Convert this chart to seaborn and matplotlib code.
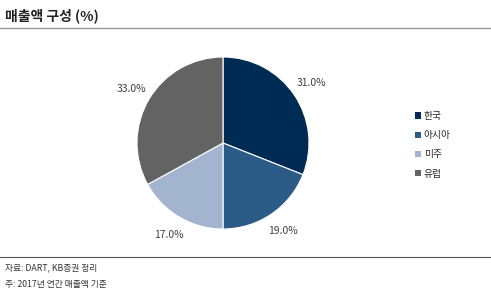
import matplotlib
matplotlib.use("Agg")
import matplotlib.pyplot as plt
import seaborn as sns
from matplotlib.lines import Line2D
from matplotlib.patches import Patch

sns.set_theme(style="white")
plt.rcParams['font.family'] = ['Noto Sans CJK KR', 'DejaVu Sans']

categories = ["한국", "아시아", "미주", "유럽"]
values = [31.0, 19.0, 17.0, 33.0]
colors = ["#002B55", "#2B5B87", "#A3B4CF", "#636363"]
title = "매출액 구성 (%)"
source1 = "자료: DART, KB증권 정리"
source2 = "주: 2017년 연간 매출액 기준"

W, H = 491, 290
fig = plt.figure(figsize=(W / 100, H / 100), dpi=100)
fig.patch.set_facecolor("white")

cx, cy, r = 223, 143, 86
ax = fig.add_axes([(cx - r) / W, (H - cy - r) / H, 2 * r / W, 2 * r / H])
wedges, texts, autotexts = ax.pie(
    values, colors=colors, startangle=90, counterclock=False,
    autopct=lambda p: f"{p:.1f}%", pctdistance=1.24,
    wedgeprops=dict(linewidth=0.8, edgecolor="white"),
    textprops=dict(fontsize=7.5, color="#404040"),
)
ax.set_xlim(-1, 1)
ax.set_ylim(-1, 1)
ax.set_aspect("equal")
ax.axis("off")

handles = [Patch(facecolor=c, edgecolor="none") for c in colors]
fig.legend(handles, categories, loc="upper left", bbox_to_anchor=(410 / W, 1 - 106 / H),
           frameon=False, fontsize=7, handlelength=0.6, handleheight=0.6,
           handletextpad=0.3, labelspacing=0.95, borderpad=0)

fig.text(5 / W, 1 - 16 / H, title, fontsize=10, fontweight="bold", color="#222222",
         va="center", ha="left")
fig.add_artist(Line2D([0, 1], [1 - 28 / H, 1 - 28 / H], color="#999999", linewidth=1.0))
fig.add_artist(Line2D([0, 1], [1 - 257 / H, 1 - 257 / H], color="#555555", linewidth=0.8))
fig.text(5 / W, 1 - 268 / H, source1, fontsize=6.3, color="#333333", va="center", ha="left")
fig.text(5 / W, 1 - 284 / H, source2, fontsize=6.3, color="#333333", va="center", ha="left")

fig.savefig("out.png", dpi=100, facecolor="white")
